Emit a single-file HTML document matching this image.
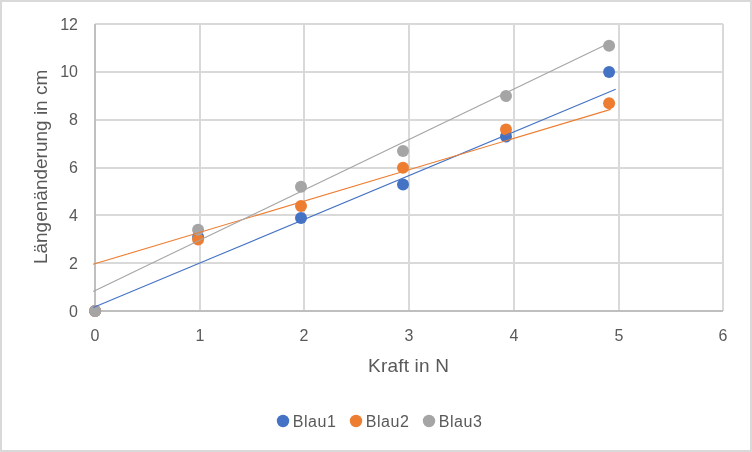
<!DOCTYPE html>
<html><head><meta charset="utf-8"><style>
html,body{margin:0;padding:0;background:#fff;}
body{width:752px;height:452px;overflow:hidden;}
svg{display:block;will-change:transform;}
.t{font-family:"Liberation Sans",sans-serif;font-size:16px;fill:#595959;}
.ti{font-family:"Liberation Sans",sans-serif;fill:#595959;}
</style></head><body>
<svg width="752" height="452" viewBox="0 0 752 452">
<rect x="0" y="0" width="752" height="452" fill="#d9d9d9"/>
<rect x="2" y="2" width="748" height="448" fill="#ffffff"/>
<rect x="199" y="24" width="2" height="287" fill="#d9d9d9"/>
<rect x="303" y="24" width="2" height="287" fill="#d9d9d9"/>
<rect x="408" y="24" width="2" height="287" fill="#d9d9d9"/>
<rect x="513" y="24" width="2" height="287" fill="#d9d9d9"/>
<rect x="618" y="24" width="2" height="287" fill="#d9d9d9"/>
<rect x="722" y="24" width="2" height="287" fill="#d9d9d9"/>
<rect x="95" y="23" width="628" height="2" fill="#d9d9d9"/>
<rect x="95" y="71" width="628" height="2" fill="#d9d9d9"/>
<rect x="95" y="119" width="628" height="2" fill="#d9d9d9"/>
<rect x="95" y="167" width="628" height="2" fill="#d9d9d9"/>
<rect x="95" y="214" width="628" height="2" fill="#d9d9d9"/>
<rect x="95" y="262" width="628" height="2" fill="#d9d9d9"/>
<rect x="94" y="24" width="2" height="288" fill="#bfbfbf"/>
<rect x="94" y="310" width="629" height="2" fill="#bfbfbf"/>
<circle cx="95.1" cy="311.1" r="6" fill="#4472c4"/>
<circle cx="198.1" cy="237.0" r="6" fill="#4472c4"/>
<circle cx="301.0" cy="217.9" r="6" fill="#4472c4"/>
<circle cx="403.0" cy="184.4" r="6" fill="#4472c4"/>
<circle cx="506.0" cy="136.6" r="6" fill="#4472c4"/>
<circle cx="609.1" cy="72.1" r="6" fill="#4472c4"/>
<circle cx="95.1" cy="311.1" r="6" fill="#ed7d31"/>
<circle cx="198.1" cy="239.4" r="6" fill="#ed7d31"/>
<circle cx="301.0" cy="205.9" r="6" fill="#ed7d31"/>
<circle cx="403.0" cy="167.7" r="6" fill="#ed7d31"/>
<circle cx="506.0" cy="129.5" r="6" fill="#ed7d31"/>
<circle cx="609.1" cy="103.2" r="6" fill="#ed7d31"/>
<circle cx="95.1" cy="311.1" r="6" fill="#a5a5a5"/>
<circle cx="198.1" cy="229.8" r="6" fill="#a5a5a5"/>
<circle cx="301.0" cy="186.8" r="6" fill="#a5a5a5"/>
<circle cx="403.0" cy="151.0" r="6" fill="#a5a5a5"/>
<circle cx="506.0" cy="96.0" r="6" fill="#a5a5a5"/>
<circle cx="609.1" cy="45.8" r="6" fill="#a5a5a5"/>
<line x1="93.3" y1="307.5" x2="615.7" y2="89.3" stroke="#4472c4" stroke-width="1.1"/>
<line x1="93.1" y1="264.3" x2="610.7" y2="109.4" stroke="#ed7d31" stroke-width="1.1"/>
<line x1="93.2" y1="291.4" x2="610.5" y2="42.5" stroke="#a5a5a5" stroke-width="1.1"/>
<text x="78" y="30" text-anchor="end" class="t">12</text>
<text x="78" y="77" text-anchor="end" class="t">10</text>
<text x="78" y="125" text-anchor="end" class="t">8</text>
<text x="78" y="173" text-anchor="end" class="t">6</text>
<text x="78" y="221" text-anchor="end" class="t">4</text>
<text x="78" y="269" text-anchor="end" class="t">2</text>
<text x="78" y="317" text-anchor="end" class="t">0</text>
<text x="95" y="341" text-anchor="middle" class="t">0</text>
<text x="200" y="341" text-anchor="middle" class="t">1</text>
<text x="304" y="341" text-anchor="middle" class="t">2</text>
<text x="409" y="341" text-anchor="middle" class="t">3</text>
<text x="514" y="341" text-anchor="middle" class="t">4</text>
<text x="619" y="341" text-anchor="middle" class="t">5</text>
<text x="723" y="341" text-anchor="middle" class="t">6</text>
<text x="408.5" y="371.6" text-anchor="middle" class="ti" style="font-size:19px" textLength="81" lengthAdjust="spacing">Kraft in N</text>
<text transform="translate(47.2,166.9) rotate(-90)" x="0" y="0" text-anchor="middle" class="ti" style="font-size:19px">Längenänderung in cm</text>
<circle cx="283" cy="421" r="6.2" fill="#4472c4"/>
<text x="292.8" y="426.6" class="t" style="font-size:16px" textLength="43" lengthAdjust="spacing">Blau1</text>
<circle cx="356" cy="421" r="6.2" fill="#ed7d31"/>
<text x="365.8" y="426.6" class="t" style="font-size:16px" textLength="43" lengthAdjust="spacing">Blau2</text>
<circle cx="429" cy="421" r="6.2" fill="#a5a5a5"/>
<text x="438.8" y="426.6" class="t" style="font-size:16px" textLength="43" lengthAdjust="spacing">Blau3</text>
</svg>
</body></html>
